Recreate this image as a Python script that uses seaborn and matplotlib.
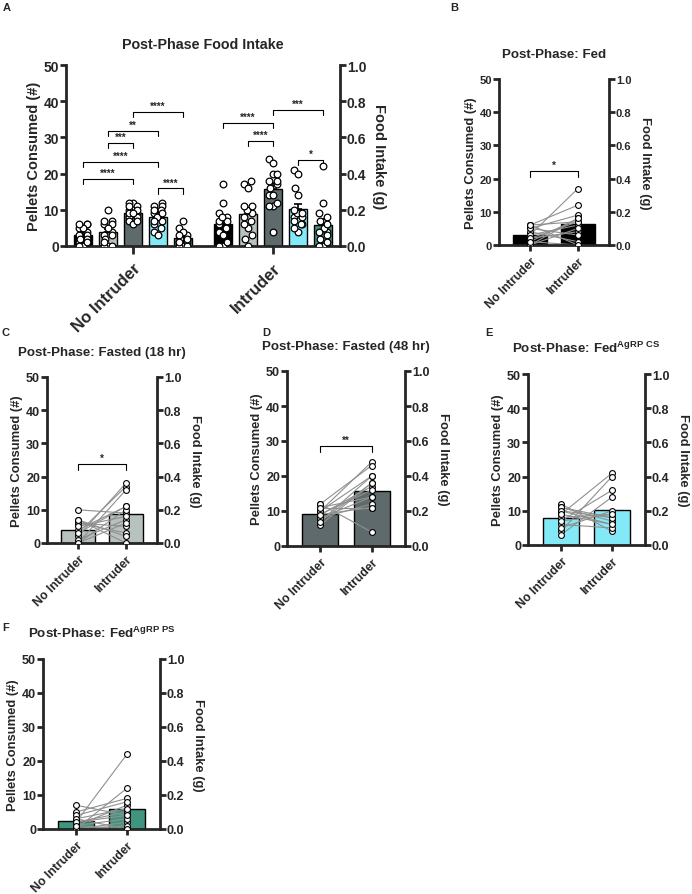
import matplotlib
matplotlib.use("Agg")
import matplotlib.pyplot as plt
import numpy as np
import pandas as pd
import seaborn as sns
from matplotlib.ticker import FormatStrFormatter

phases = ["No Intruder", "Intruder"]
conditions = ["Fed", "Fasted (18 hr)", "Fasted (48 hr)", "Fed AgRP CS", "Fed AgRP PS"]
cond_colors = ["#000000", "#b7c1be", "#5e6a6b", "#84e9f6", "#3f9580"]

# pellets consumed per mouse; same index = same mouse in both phases
fed_no = [3, 6, 1, 5, 0, 2, 6, 4, 3, 0, 5, 2, 6, 1]
fed_int = [17, 12, 0, 9, 8, 4, 7, 1, 6, 5, 3, 7, 0, 8]
f18_no = [3, 10, 0, 6, 2, 7, 0, 4, 6, 1, 7, 5, 3, 0]
f18_int = [17, 9, 16, 3, 18, 2, 10, 11, 5, 7, 0, 8, 11, 6]
f48_no = [10, 8, 12, 9, 7, 11, 6, 9, 12, 8, 10, 11, 7, 9]
f48_int = [24, 14, 23, 17, 20, 11, 18, 16, 4, 12, 20, 14, 18, 11]
cs_no = [9, 12, 7, 11, 4, 10, 8, 3, 11, 6, 10, 5, 9, 7]
cs_int = [21, 4, 16, 8, 20, 6, 9, 14, 7, 5, 8, 10, 6, 9]
ps_no = [2, 7, 0, 3, 1, 5, 0, 2, 4, 1, 3, 0, 2, 1]
ps_int = [22, 4, 12, 0, 7, 9, 2, 5, 8, 3, 6, 1, 4, 0]

no_intruder = [fed_no, f18_no, f48_no, cs_no, ps_no]
intruder = [fed_int, f18_int, f48_int, cs_int, ps_int]

# panel A comparisons: (phase, condition a, condition b, bracket height, label)
sig_a = [
    (0, 0, 2, 18.5, "****"),
    (0, 0, 3, 23.1, "****"),
    (0, 1, 2, 28.4, "***"),
    (0, 1, 3, 31.7, "**"),
    (0, 2, 4, 37.1, "****"),
    (0, 3, 4, 15.9, "****"),
    (1, 0, 2, 34.0, "****"),
    (1, 1, 2, 29.1, "****"),
    (1, 2, 4, 37.6, "***"),
    (1, 3, 4, 23.8, "*"),
]

panel_titles = [
    "Post-Phase: Fed",
    "Post-Phase: Fasted (18 hr)",
    "Post-Phase: Fasted (48 hr)",
    r"Post-Phase: Fed$^{\mathbf{AgRP\ CS}}$",
    r"Post-Phase: Fed$^{\mathbf{AgRP\ PS}}$",
]
panel_sig = [(22.2, "*"), (23.7, "*"), (28.5, "**"), None, None]
panel_letters = ["B", "C", "D", "E", "F"]

sns.set_style("ticks")
plt.rcParams["font.family"] = ["Liberation Sans", "DejaVu Sans"]
plt.rcParams["font.weight"] = "bold"
plt.rcParams["axes.labelweight"] = "bold"
plt.rcParams["axes.titleweight"] = "bold"
plt.rcParams["mathtext.fontset"] = "custom"
plt.rcParams["mathtext.bf"] = "Liberation Sans:bold"
plt.rcParams["mathtext.rm"] = "Liberation Sans:bold"

W, H = 692, 895
fig = plt.figure(figsize=(W / 100, H / 100), dpi=100)


def px_axes(x0, y0, x1, y1):
    """Axes from pixel box (left, top, right, bottom)."""
    return fig.add_axes([x0 / W, 1 - y1 / H, (x1 - x0) / W, (y1 - y0) / H])


def dual_axis(ax, lw, labsize, ylab_size):
    ax.set_ylim(0, 50)
    ax.set_yticks(np.arange(0, 51, 10))
    for s in ["top", "right"]:
        ax.spines[s].set_visible(False)
    for s in ["left", "bottom"]:
        ax.spines[s].set_linewidth(lw)
    ax.tick_params(width=lw, length=4, labelsize=labsize, pad=1)
    ax.set_ylabel("Pellets Consumed (#)", fontsize=ylab_size, labelpad=2)
    ax2 = ax.twinx()
    ax2.set_ylim(0, 1)
    ax2.set_yticks(np.arange(0, 1.01, 0.2))
    ax2.yaxis.set_major_formatter(FormatStrFormatter("%.1f"))
    for s in ["top", "left", "bottom"]:
        ax2.spines[s].set_visible(False)
    ax2.spines["right"].set_linewidth(lw)
    ax2.tick_params(width=lw, length=4, labelsize=labsize, pad=1)
    ax2.set_ylabel("Food Intake (g)", fontsize=ylab_size, rotation=270, labelpad=14)
    return ax2


def bracket(ax, x1, x2, y, label, drop, fs):
    ax.plot([x1, x1, x2, x2], [y - drop, y, y, y - drop], color="black", lw=0.8)
    ax.text((x1 + x2) / 2, y + 0.3, label, ha="center", va="bottom", fontsize=fs)


# ---- panel A ----
gap = 1.6
step = len(conditions) - 1 + gap
rows = []
for p, groups in enumerate([no_intruder, intruder]):
    for c, vals in enumerate(groups):
        for v in vals:
            rows.append({"pos": p * step + c, "phase": phases[p],
                         "cond": conditions[c], "pellets": v})
dfa = pd.DataFrame(rows)

ax = px_axes(66, 66, 340, 247)
sns.barplot(data=dfa, x="pos", y="pellets", hue="cond", hue_order=conditions,
            palette=cond_colors, native_scale=True, dodge=False, errorbar=None,
            width=0.7, saturation=1, edgecolor="black", linewidth=1,
            legend=False, orient="x", ax=ax)
stats = dfa.groupby("pos")["pellets"].agg(["mean", "sem"])
ax.errorbar(stats.index, stats["mean"], yerr=[np.zeros(len(stats)), stats["sem"]],
            fmt="none", ecolor="black", elinewidth=1.2, capsize=3, capthick=1.2, zorder=3)
# seaborn sizes a swarm from the closest spacing of x values; empty rows
# beside each bar keep the swarms about as narrow as the bars
spacer = pd.DataFrame({"pos": dfa["pos"].unique() + 0.4, "pellets": np.nan})
sns.swarmplot(data=pd.concat([dfa, spacer], ignore_index=True), x="pos", y="pellets",
              native_scale=True, orient="x", color="white", edgecolor="black",
              linewidth=0.9, size=4.8, warn_thresh=1, zorder=4, ax=ax)
ax.set_xlim(-0.68, dfa["pos"].max() + 0.68)
ax2 = dual_axis(ax, 2.0, 10, 10.5)
centers = dfa.groupby("phase", sort=False)["pos"].mean()
ax.set_xticks(centers.values)
ax.set_xticklabels(centers.index, rotation=45, ha="right", rotation_mode="anchor", fontsize=12)
ax.tick_params(axis="x", length=6, pad=4)
ax.set_xlabel("")
ax.set_title("Post-Phase Food Intake", fontsize=10.3, pad=12)
for p, a, b, y, lab in sig_a:
    bracket(ax, a + p * step, b + p * step, y, lab, 1.4, 7)

# ---- paired panels ----
boxes = [(499, 80, 609, 246), (47, 378, 157, 544), (287, 372, 405, 547),
         (528, 375, 645, 546), (43, 660, 160, 830)]
for i in range(5):
    n = len(no_intruder[i])
    df = pd.DataFrame({
        "mouse": list(range(n)) * 2,
        "phase": [phases[0]] * n + [phases[1]] * n,
        "slot": [0] * n + [1] * n,
        "pellets": list(no_intruder[i]) + list(intruder[i]),
    })
    ax = px_axes(*boxes[i])
    sns.barplot(data=df, x="phase", y="pellets", order=phases, color=cond_colors[i],
                errorbar=None, width=0.7, saturation=1, edgecolor="black",
                linewidth=1, ax=ax)
    sns.lineplot(data=df, x="slot", y="pellets", units="mouse", estimator=None,
                 color="#8f8f8f", linewidth=0.8, ax=ax)
    sns.stripplot(data=df, x="phase", y="pellets", order=phases, jitter=False,
                  color="white", edgecolor="black", linewidth=0.8, size=4.2,
                  zorder=4, ax=ax)
    ax.set_xlim(-0.65, 1.65)
    lab_size = 8 if i == 0 else 9
    dual_axis(ax, 2.0, lab_size, 9.4)
    ax.set_xticks([0, 1])
    ax.set_xticklabels(phases, rotation=45, ha="right", rotation_mode="anchor", fontsize=8.8)
    ax.tick_params(axis="x", length=4, pad=3)
    ax.set_xlabel("")
    ax.set_title(panel_titles[i], fontsize=9.6, pad=16)
    if panel_sig[i] is not None:
        y, lab = panel_sig[i]
        bracket(ax, 0, 1, y, lab, 1.6, 7)

letter_xy = [(3, 3), (450, 3), (2, 328), (262, 328), (485, 328), (2, 623)]
for letter, (x, y) in zip(["A"] + panel_letters, letter_xy):
    fig.text(x / W, 1 - y / H, letter, fontsize=8, ha="left", va="top")

fig.savefig("out.png", dpi=100)
